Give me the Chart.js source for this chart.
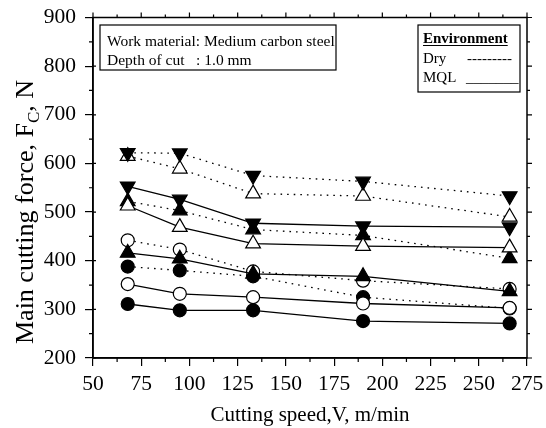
<!DOCTYPE html>
<html><head><meta charset="utf-8">
<script src="https://cdn.jsdelivr.net/npm/chart.js@4/dist/chart.umd.min.js"></script>
<style>html,body{margin:0;padding:0;background:#fff}#wrap{width:546px;height:428px;position:relative}</style>
</head><body><div id="wrap"><canvas id="c"></canvas></div>
<script>
// ---- data ----
const speeds = [68, 95, 133, 190, 266];
const dryDown = [622, 621, 575, 563, 533];
const dryOpenTri = [615, 589, 538, 533, 490];
const dryUp = [522, 503, 464, 452, 405];
const dryOpenCircle = [442, 423, 378, 359, 342];
const dryCircle = [388, 380, 368, 325, 302];
const mqlDown = [553, 526, 477, 471, 469];
const mqlOpenTri = [513, 469, 435, 430, 427];
const mqlUp = [416, 404, 373, 368, 337];
const mqlOpenCircle = [352, 332, 325, 312, 303];
const mqlCircle = [311, 298, 298, 276, 271];
const xTicks = [50, 75, 100, 125, 150, 175, 200, 225, 250, 275];
const yTicks = [200, 300, 400, 500, 600, 700, 800, 900];
const xTitle = 'Cutting speed,V, m/min';
const yTitleParts = ['Main cutting force, F', 'C', ', N'];
const noteLines = ['Work material: Medium carbon steel', 'Depth of cut   : 1.0 mm'];
const legendTitle = 'Environment';
const legendLines = [['Dry', '---------'], ['MQL', '_______']];

const SERIF = '"Liberation Serif", "DejaVu Serif", serif';

function mk(vals, style, filled, dotted, order) {
  const isDown = style === 'down';
  return {
    data: vals.map((v, i) => ({x: speeds[i], y: v})),
    borderColor: '#000',
    borderWidth: 1.3,
    borderDash: dotted ? [1.6, 5] : [],
    pointStyle: style === 'circle' ? 'circle' : 'triangle',
    rotation: isDown ? 180 : 0,
    pointRadius: style === 'circle' ? 6.5 : 8.5,
    pointBorderWidth: 1.2,
    pointBackgroundColor: filled ? '#000' : '#fff',
    pointBorderColor: '#000',
    fill: false,
    tension: 0,
    order: order
  };
}

const datasets = [
  mk(dryDown, 'down', true, true, 2),
  mk(dryOpenTri, 'up', false, true, 3),
  mk(dryUp, 'up', true, true, 3),
  mk(dryOpenCircle, 'circle', false, true, 4),
  mk(dryCircle, 'circle', true, true, 5),
  mk(mqlDown, 'down', true, false, 1),
  mk(mqlOpenTri, 'up', false, false, 2),
  mk(mqlUp, 'up', true, false, 1),
  mk(mqlOpenCircle, 'circle', false, false, 1),
  mk(mqlCircle, 'circle', true, false, 1)
];

const framePlugin = {
  id: 'frame',
  afterDraw(chart) {
    const ctx = chart.ctx, a = chart.chartArea;
    const xs = chart.scales.x, ys = chart.scales.y;
    ctx.save();
    ctx.strokeStyle = '#000';
    ctx.lineWidth = 1.5;
    ctx.strokeRect(a.left, a.top, a.right - a.left, a.bottom - a.top);
    ctx.lineWidth = 1.2;
    ctx.beginPath();
    for (let v = xTicks[0]; v <= xTicks[xTicks.length - 1] + 0.01; v += 12.5) {
      const px = xs.getPixelForValue(v);
      const major = Math.abs((v - xTicks[0]) % 25) < 0.01;
      if (!major) { ctx.moveTo(px, a.bottom); ctx.lineTo(px, a.bottom + 4); }
      ctx.moveTo(px, a.top); ctx.lineTo(px, a.top - (major ? 5 : 3));
    }
    for (let v = yTicks[0]; v <= yTicks[yTicks.length - 1] + 0.01; v += 50) {
      const py = ys.getPixelForValue(v);
      const major = Math.abs((v - yTicks[0]) % 100) < 0.01;
      if (!major) { ctx.moveTo(a.left, py); ctx.lineTo(a.left - 4, py); }
      else { ctx.moveTo(a.left, py); ctx.lineTo(a.left + 3, py); }
      ctx.moveTo(a.right, py); ctx.lineTo(a.right + (major ? 5 : 3), py);
    }
    ctx.stroke();

    // y title with subscript
    ctx.fillStyle = '#000';
    ctx.translate(33, 212);
    ctx.rotate(-Math.PI / 2);
    const big = '26px ' + SERIF, small = '17px ' + SERIF;
    ctx.font = big; const w1 = ctx.measureText(yTitleParts[0]).width;
    ctx.font = small; const w2 = ctx.measureText(yTitleParts[1]).width;
    ctx.font = big; const w3 = ctx.measureText(yTitleParts[2]).width;
    let x0 = -(w1 + w2 + w3) / 2;
    ctx.textBaseline = 'alphabetic';
    ctx.textAlign = 'left';
    ctx.font = big; ctx.fillText(yTitleParts[0], x0, 0);
    ctx.font = small; ctx.fillText(yTitleParts[1], x0 + w1, 6);
    ctx.font = big; ctx.fillText(yTitleParts[2], x0 + w1 + w2, 0);
    ctx.restore();

    // note box
    ctx.save();
    ctx.strokeStyle = '#000';
    ctx.lineWidth = 1.2;
    ctx.fillStyle = '#fff';
    ctx.fillRect(100, 25, 236, 45);
    ctx.strokeRect(100, 25, 236, 45);
    ctx.fillStyle = '#000';
    ctx.font = '15.5px ' + SERIF;
    ctx.textBaseline = 'alphabetic';
    ctx.fillText(noteLines[0], 107, 46);
    ctx.fillText(noteLines[1], 107, 65);

    // legend box
    ctx.fillStyle = '#fff';
    ctx.fillRect(418, 25, 102, 67);
    ctx.strokeRect(418, 25, 102, 67);
    ctx.fillStyle = '#000';
    ctx.font = 'bold 15px ' + SERIF;
    ctx.fillText(legendTitle, 423, 43);
    const tw = ctx.measureText(legendTitle).width;
    ctx.lineWidth = 1;
    ctx.beginPath(); ctx.moveTo(423, 45.5); ctx.lineTo(423 + tw, 45.5); ctx.stroke();
    ctx.font = '15px ' + SERIF;
    ctx.fillText(legendLines[0][0], 423, 63);
    ctx.fillText(legendLines[0][1], 467, 63);
    ctx.fillText(legendLines[1][0], 423, 82);
    ctx.fillText(legendLines[1][1], 466, 82);
    ctx.restore();
  }
};

new Chart(document.getElementById('c'), {
  type: 'line',
  data: { datasets },
  options: {
    responsive: true,
    maintainAspectRatio: false,
    animation: false,
    layout: { padding: { top: 17.5, right: 19, left: 0, bottom: 0 } },
    plugins: { legend: { display: false }, tooltip: { enabled: false } },
    scales: {
      x: {
        type: 'linear',
        min: xTicks[0], max: xTicks[xTicks.length - 1],
        afterFit(s) { s.height = 70; s.paddingLeft = 0; s.paddingRight = 0; },
        afterBuildTicks(s) { s.ticks = xTicks.map(v => ({value: v})); },
        ticks: { color: '#000', font: { family: SERIF, size: 21.5 }, padding: 5, maxRotation: 0 },
        grid: { drawOnChartArea: false, drawTicks: true, tickLength: 8, color: '#000', lineWidth: 1.2 },
        border: { display: true, color: '#000', width: 1.5 },
        title: { display: true, text: xTitle, color: '#000', font: { family: SERIF, size: 21 }, padding: { top: 2, bottom: 0 } }
      },
      y: {
        type: 'linear',
        min: yTicks[0], max: yTicks[yTicks.length - 1],
        afterFit(s) { s.width = 93; s.paddingTop = 0; s.paddingBottom = 0; },
        afterBuildTicks(s) { s.ticks = yTicks.map(v => ({value: v})); },
        ticks: { color: '#000', font: { family: SERIF, size: 21.5 }, padding: 9 },
        grid: { drawOnChartArea: false, drawTicks: true, tickLength: 8, color: '#000', lineWidth: 1.2 },
        border: { display: true, color: '#000', width: 1.5 }
      }
    }
  },
  plugins: [framePlugin]
});
</script>
</body></html>
